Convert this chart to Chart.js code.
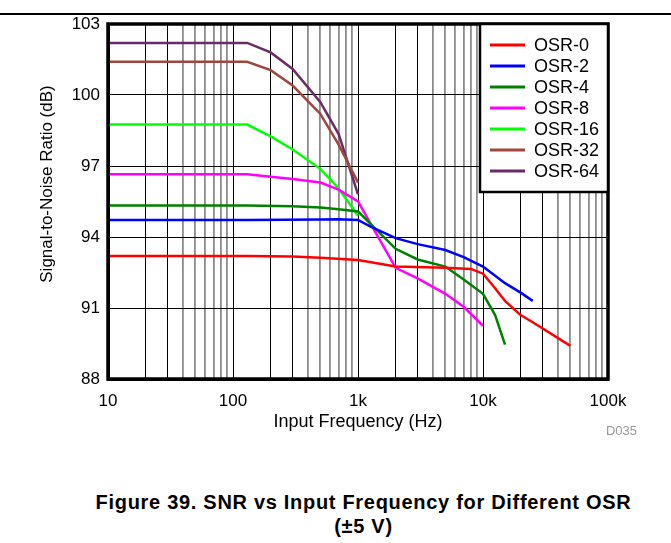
<!DOCTYPE html>
<html>
<head>
<meta charset="utf-8">
<script src="https://cdn.jsdelivr.net/npm/chart.js@4"></script>
<style>
  body { margin: 0; background: #fff; font-family: "Liberation Sans", Arial, sans-serif; }
  #wrap { position: relative; width: 671px; height: 543px; overflow: hidden; }
  #rule { position: absolute; left: 0; top: 13px; width: 671px; height: 2px; background: #000; }
  #chart { position: absolute; left: 0; top: 0; }
  #code { position: absolute; right: 34px; top: 424px; font-size: 13px; line-height: 14px; color: #999; }
  .cap { position: absolute; left: 0; width: 727px; text-align: center; font-weight: bold;
         font-size: 20px; line-height: 24px; letter-spacing: 0.7px; color: #000; }
</style>
</head>
<body>
<div id="wrap">
  <div id="rule"></div>
  <canvas id="chart" width="671" height="445"></canvas>
  <div id="code">D035</div>
  <div class="cap" style="top:490px">Figure 39. SNR vs Input Frequency for Different OSR</div>
  <div class="cap" style="top:514px">(±5 V)</div>
</div>
<script>
// series (Hz, dB)
const seriesNames = ['OSR-0', 'OSR-2', 'OSR-4', 'OSR-8', 'OSR-16', 'OSR-32', 'OSR-64'];
const seriesColors = ['#ff0000', '#0000ff', '#008000', '#ff00ff', '#00ff00', '#a0463e', '#6b2b68'];

const freqOsr0 = [10, 130, 300, 500, 1000, 2000, 5000, 8000, 10000, 12000, 15000, 20000, 25000, 50000];
const snrOsr0 = [93.2, 93.2, 93.18, 93.12, 93.03, 92.75, 92.7, 92.65, 92.45, 91.95, 91.3, 90.7, 90.4, 89.4];

const freqOsr2 = [10, 130, 500, 700, 1000, 1250, 2000, 3000, 5000, 7000, 10000, 15000, 20000, 25000];
const snrOsr2 = [94.72, 94.72, 94.74, 94.75, 94.72, 94.45, 93.95, 93.7, 93.45, 93.15, 92.75, 92.05, 91.65, 91.3];

const freqOsr4 = [10, 130, 300, 500, 700, 1000, 2000, 3000, 5000, 7000, 10000, 12500, 15000];
const snrOsr4 = [95.33, 95.33, 95.3, 95.25, 95.17, 95.08, 93.5, 93.05, 92.75, 92.2, 91.6, 90.7, 89.45];

const freqOsr8 = [10, 130, 200, 300, 500, 700, 1000, 2000, 3000, 5000, 7000, 10000];
const snrOsr8 = [96.65, 96.65, 96.55, 96.45, 96.3, 96.0, 95.5, 92.7, 92.25, 91.6, 91.05, 90.25];

const freqOsr16 = [10, 130, 200, 300, 500, 700, 1000];
const snrOsr16 = [98.75, 98.75, 98.25, 97.7, 96.88, 96.05, 94.9];

const freqOsr32 = [10, 130, 200, 300, 500, 700, 1000];
const snrOsr32 = [101.4, 101.4, 101.05, 100.4, 99.2, 97.9, 96.3];

const freqOsr64 = [10, 130, 200, 300, 500, 700, 1000];
const snrOsr64 = [102.2, 102.2, 101.8, 101.1, 99.7, 98.35, 95.8];

const freqLists = [freqOsr0, freqOsr2, freqOsr4, freqOsr8, freqOsr16, freqOsr32, freqOsr64];
const snrLists = [snrOsr0, snrOsr2, snrOsr4, snrOsr8, snrOsr16, snrOsr32, snrOsr64];

// axis ticks
const xGridTicks = [];
[10, 100, 1000, 10000].forEach(d => { for (let m = 1; m < 10; m++) xGridTicks.push(m * d); });
xGridTicks.push(100000);
const xTickLabels = { 10: '10', 100: '100', 1000: '1k', 10000: '10k', 100000: '100k' };
const yTickValues = [88, 91, 94, 97, 100, 103];

function mantissa(v) {
  return Math.round(v / Math.pow(10, Math.floor(Math.log10(v) + 1e-9)));
}

const frameAndLegend = {
  id: 'frameAndLegend',
  afterDraw(chart) {
    const { ctx, chartArea } = chart;
    const { left, top, right, bottom } = chartArea;
    ctx.save();
    // plot frame
    ctx.strokeStyle = '#000';
    ctx.lineWidth = 3.5;
    ctx.strokeRect(left, top, right - left, bottom - top);

    // legend box in top right corner
    const lx = right - 128, ly = top, lh = 168;
    ctx.fillStyle = '#fff';
    ctx.fillRect(lx, ly, right - lx, lh);
    ctx.lineWidth = 2.5;
    ctx.strokeRect(lx, ly, right - lx, lh);
    ctx.font = '18px "Liberation Sans", Arial, sans-serif';
    ctx.textBaseline = 'middle';
    chart.data.datasets.forEach((ds, i) => {
      const y = ly + 21 + i * 21;
      ctx.strokeStyle = ds.borderColor;
      ctx.lineWidth = 3;
      ctx.beginPath();
      ctx.moveTo(lx + 10, y);
      ctx.lineTo(lx + 45, y);
      ctx.stroke();
      ctx.fillStyle = '#000';
      ctx.fillText(ds.label, lx + 54, y + 1);
    });

    // y axis title
    ctx.translate(47, 184);
    ctx.rotate(-Math.PI / 2);
    ctx.font = '17px "Liberation Sans", Arial, sans-serif';
    ctx.textAlign = 'center';
    ctx.fillStyle = '#000';
    ctx.fillText('Signal-to-Noise Ratio (dB)', 0, 0);
    ctx.restore();
  }
};

const ctx = document.getElementById('chart').getContext('2d');

const snrChart = new Chart(ctx, {
  type: 'line',
  data: {
    datasets: seriesNames.map((name, i) => ({
      label: name,
      data: freqLists[i].map((f, j) => ({ x: f, y: snrLists[i][j] })),
      borderColor: seriesColors[i],
      borderWidth: 2.5,
      pointRadius: 0,
      tension: 0,
      fill: false
    }))
  },
  options: {
    responsive: false,
    animation: false,
    devicePixelRatio: 1,
    layout: { padding: { top: 24, right: 63, bottom: 8, left: 0 } },
    plugins: {
      legend: { display: false },
      tooltip: { enabled: false }
    },
    scales: {
      x: {
        type: 'logarithmic',
        min: 10,
        max: 100000,
        afterBuildTicks: scale => {
          scale.ticks = xGridTicks.map(v => ({ value: v, major: mantissa(v) === 1 }));
        },
        afterFit: scale => { scale.height = 58; },
        ticks: {
          autoSkip: false,
          maxRotation: 0,
          padding: 12,
          color: '#000',
          font: { size: 17, family: '"Liberation Sans", Arial, sans-serif' },
          callback: v => xTickLabels[v] || ''
        },
        grid: {
          drawTicks: false,
          color: c => (c.tick && mantissa(c.tick.value) > 3) ? '#8c8c8c' : '#000',
          lineWidth: c => (c.tick && mantissa(c.tick.value) > 3) ? 1.8 : 1
        },
        border: { color: '#000', width: 3 },
        title: {
          display: true,
          text: 'Input Frequency (Hz)',
          color: '#000',
          font: { size: 18, family: '"Liberation Sans", Arial, sans-serif' },
          padding: { top: 0, bottom: 4 }
        }
      },
      y: {
        min: 88,
        max: 103,
        afterBuildTicks: scale => {
          scale.ticks = yTickValues.map(v => ({ value: v }));
        },
        afterFit: scale => { scale.width = 108; },
        ticks: {
          padding: 8,
          color: '#000',
          font: { size: 17, family: '"Liberation Sans", Arial, sans-serif' }
        },
        grid: { drawTicks: false, color: '#000', lineWidth: 1 },
        border: { color: '#000', width: 3 }
      }
    }
  },
  plugins: [frameAndLegend]
});
</script>
</body>
</html>
